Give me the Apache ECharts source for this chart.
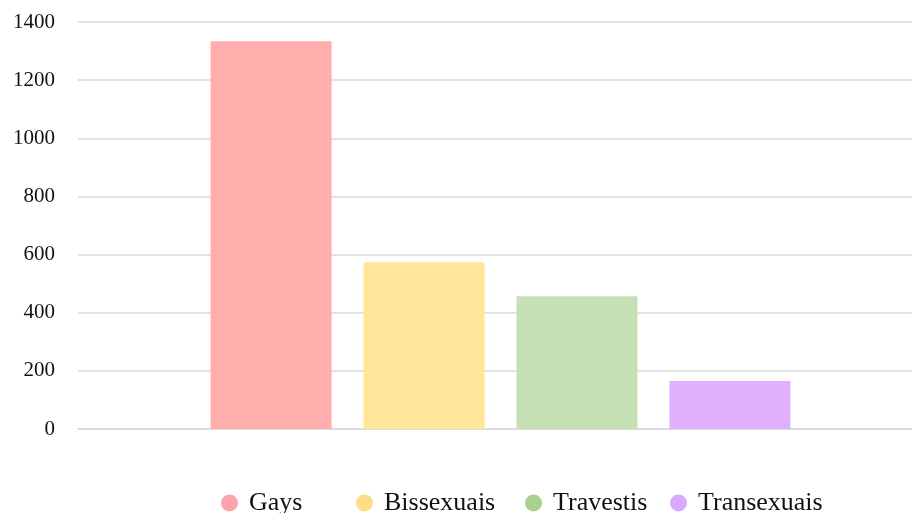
<!DOCTYPE html>
<html>
<head>
<meta charset="utf-8">
<script src="https://cdn.jsdelivr.net/npm/echarts@6/dist/echarts.min.js"></script>
<style>
  html, body { margin: 0; padding: 0; background: #fff; overflow: hidden; }
  #chart { width: 923px; height: 513px; }
</style>
</head>
<body>
<div id="chart"></div>
<script>
// Single category, one bar per group
const categories = [''];
const seriesNames = ['Gays', 'Bissexuais', 'Travestis', 'Transexuais'];
const seriesValues = [1334, 574, 457, 165];
const yTicks = { min: 0, max: 1400, interval: 200 };

const barColors = ['#FFADAD', '#FFE699', '#C5E0B4', '#E0B0FF'];
const legendColors = ['#FFA3AB', '#FFDC85', '#A9D18E', '#D9A8FF'];
const legendLefts = [221, 356, 525, 670];

const FONT = '"Liberation Serif", "Times New Roman", serif';

const chart = echarts.init(document.getElementById('chart'), null, { renderer: 'canvas' });

const series = seriesNames.map((name, i) => ({
  name: name,
  type: 'bar',
  data: [seriesValues[i]],
  barWidth: 121,
  barGap: '26.4%',
  itemStyle: { color: barColors[i] },
  emphasis: { disabled: true }
}));

const legends = seriesNames.map((name, i) => ({
  left: legendLefts[i],
  top: 490,
  padding: 0,
  icon: 'circle',
  itemWidth: 17,
  itemHeight: 17,
  selectedMode: false,
  data: [{ name: name, itemStyle: { color: legendColors[i] } }],
  textStyle: {
    fontFamily: FONT,
    fontSize: 26,
    color: '#111',
    padding: [0, 0, 0, 6]
  }
}));

chart.setOption({
  animation: false,
  backgroundColor: '#fff',
  grid: { left: 78, top: 22, right: 0, bottom: 84, containLabel: false },
  legend: legends,
  xAxis: {
    type: 'category',
    data: categories,
    axisLine: { show: true, lineStyle: { color: '#d9d9d9', width: 1.5 } },
    axisTick: { show: false },
    axisLabel: { show: false },
    splitLine: { show: false }
  },
  yAxis: {
    type: 'value',
    min: yTicks.min,
    max: yTicks.max,
    interval: yTicks.interval,
    axisLine: { show: false },
    axisTick: { show: false },
    axisLabel: {
      fontFamily: FONT,
      fontSize: 21,
      color: '#111',
      margin: 23,
      formatter: v => String(v)
    },
    splitLine: { lineStyle: { color: '#d9d9d9', width: 1.5 } }
  },
  series: series
});
</script>
</body>
</html>
